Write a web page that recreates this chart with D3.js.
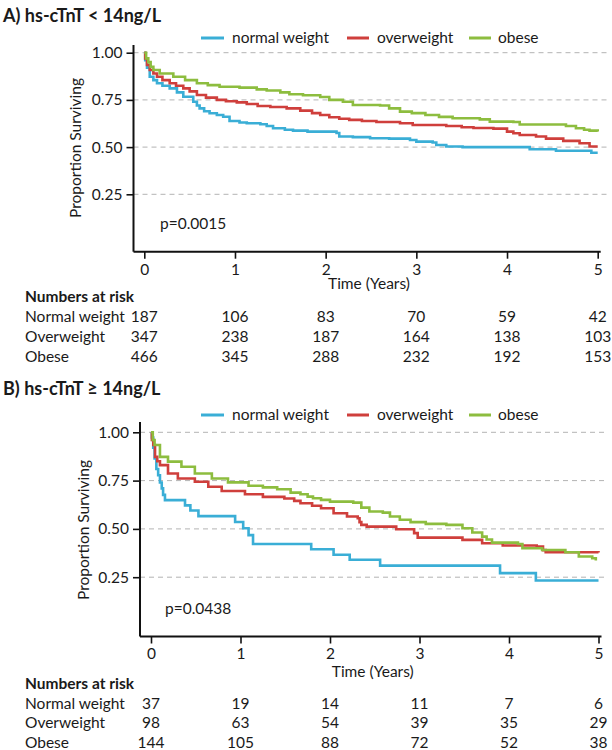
<!DOCTYPE html>
<html>
<head>
<meta charset="utf-8">
<script src="https://cdn.jsdelivr.net/npm/d3@7"></script>
<style>
  html, body { margin: 0; padding: 0; background: #fff; }
  svg text { font-family: Lato, "Open Sans", sans-serif; fill: #1a1a1a; }
</style>
</head>
<body>
<svg id="chart" width="612" height="750"></svg>
<script>
// ---------- DATA ----------
const groups = ["normal weight", "overweight", "obese"];
const riskLabels = ["Normal weight", "Overweight", "Obese"];
const xTicks = [0, 1, 2, 3, 4, 5];
const yTicks = [0.25, 0.50, 0.75, 1.00];
const groupColors = ["#3aaed6", "#cf3f3c", "#8dbd3f"];

const titleA = "A) hs-cTnT < 14ng/L";
const titleB = "B) hs-cTnT \u2265 14ng/L";
const pA = "p=0.0015";
const pB = "p=0.0438";

// Panel A survival steps [years, proportion]
const a_normal = [[0,1],[0.01,0.96],[0.03,0.92],[0.06,0.873],[0.1,0.855],[0.14,0.838],[0.2,0.825],[0.28,0.811],[0.36,0.79],[0.43,0.767],[0.54,0.74],[0.58,0.72],[0.61,0.705],[0.66,0.69],[0.72,0.679],[0.8,0.67],[0.87,0.661],[0.94,0.638],[1.05,0.63],[1.13,0.626],[1.28,0.621],[1.35,0.612],[1.42,0.6],[1.55,0.592],[1.64,0.587],[1.8,0.582],[2.12,0.575],[2.15,0.556],[2.3,0.553],[2.49,0.547],[2.7,0.545],[2.93,0.538],[3.0,0.529],[3.18,0.524],[3.22,0.511],[3.33,0.503],[3.51,0.5],[4.25,0.489],[4.54,0.481],[4.93,0.47],[5.0,0.47]];
const a_over = [[0,1],[0.01,0.97],[0.03,0.935],[0.06,0.908],[0.1,0.89],[0.14,0.873],[0.2,0.855],[0.28,0.838],[0.35,0.825],[0.43,0.811],[0.5,0.795],[0.58,0.776],[0.68,0.762],[0.8,0.75],[0.9,0.743],[1.02,0.737],[1.13,0.728],[1.25,0.718],[1.39,0.712],[1.57,0.705],[1.72,0.693],[1.85,0.68],[1.94,0.67],[2.04,0.658],[2.15,0.65],[2.26,0.644],[2.4,0.638],[2.56,0.633],[2.82,0.626],[2.96,0.617],[3.33,0.612],[3.5,0.605],[3.63,0.601],[3.85,0.598],[4.0,0.582],[4.07,0.573],[4.14,0.564],[4.32,0.556],[4.43,0.545],[4.62,0.533],[4.8,0.52],[4.91,0.503],[5.0,0.503]];
const a_obese = [[0,1],[0.02,0.97],[0.044,0.95],[0.07,0.925],[0.1,0.908],[0.17,0.89],[0.32,0.873],[0.45,0.855],[0.58,0.838],[0.7,0.828],[0.83,0.82],[1.05,0.815],[1.24,0.806],[1.35,0.8],[1.5,0.79],[1.6,0.78],[1.75,0.775],[1.94,0.765],[2.04,0.75],[2.19,0.74],[2.3,0.723],[2.6,0.72],[2.7,0.705],[2.82,0.688],[2.95,0.68],[3.1,0.67],[3.25,0.66],[3.4,0.653],[3.7,0.647],[3.81,0.635],[4.07,0.633],[4.14,0.62],[4.5,0.62],[4.65,0.612],[4.76,0.6],[4.85,0.592],[4.91,0.587],[5.0,0.582]];

// Panel B survival steps [years, proportion]
const b_normal = [[0,1],[0.01,0.973],[0.025,0.92],[0.04,0.865],[0.06,0.81],[0.08,0.778],[0.1,0.74],[0.12,0.71],[0.135,0.676],[0.156,0.649],[0.38,0.622],[0.44,0.595],[0.53,0.566],[0.94,0.536],[1.03,0.503],[1.09,0.468],[1.14,0.422],[1.79,0.395],[2.04,0.366],[2.22,0.34],[2.56,0.31],[3.9,0.271],[4.3,0.233],[5.0,0.233]];
const b_over = [[0,1],[0.01,0.96],[0.026,0.934],[0.045,0.873],[0.07,0.85],[0.1,0.83],[0.19,0.787],[0.3,0.761],[0.49,0.744],[0.64,0.718],[0.79,0.696],[1.05,0.679],[1.25,0.666],[1.49,0.657],[1.6,0.645],[1.67,0.633],[1.8,0.62],[1.9,0.607],[2.04,0.581],[2.19,0.564],[2.31,0.555],[2.33,0.535],[2.35,0.521],[2.41,0.512],[2.74,0.498],[2.94,0.478],[2.98,0.455],[3.48,0.443],[3.7,0.426],[3.93,0.414],[4.31,0.409],[4.38,0.39],[4.41,0.379],[5.0,0.378]];
const b_obese = [[0,1],[0.02,0.96],[0.04,0.934],[0.1,0.873],[0.19,0.848],[0.34,0.822],[0.49,0.787],[0.68,0.761],[0.86,0.741],[1.09,0.723],[1.25,0.715],[1.41,0.705],[1.56,0.688],[1.67,0.679],[1.75,0.667],[1.81,0.659],[1.9,0.65],[2.0,0.641],[2.26,0.636],[2.35,0.61],[2.44,0.59],[2.59,0.584],[2.67,0.564],[2.78,0.547],[2.9,0.535],[3.07,0.526],[3.3,0.521],[3.48,0.503],[3.59,0.481],[3.7,0.46],[3.75,0.445],[3.81,0.429],[4.1,0.422],[4.15,0.4],[4.37,0.391],[4.63,0.379],[4.78,0.357],[4.93,0.348],[4.97,0.336]];

// Numbers at risk
const a_risk_normal = [187, 106, 83, 70, 59, 42];
const a_risk_over = [347, 238, 187, 164, 138, 103];
const a_risk_obese = [466, 345, 288, 232, 192, 153];
const b_risk_normal = [37, 19, 14, 11, 7, 6];
const b_risk_over = [98, 63, 54, 39, 35, 29];
const b_risk_obese = [144, 105, 88, 72, 52, 38];

// ---------- DRAW ----------
const svg = d3.select("#chart");
const fmt = d3.format(".2f");
const FS = "15.5px";

function panel(cfg) {
  const g = svg.append("g");
  const x = d3.scaleLinear().domain([0, 5]).range([cfg.x0, cfg.x5]);
  const y = d3.scaleLinear().domain([0, 1]).range([cfg.y0, cfg.y1]);

  // title
  g.append("text").attr("x", 3).attr("y", cfg.titleY)
    .attr("dominant-baseline", "central")
    .style("font-size", "18px").style("font-weight", "bold").text(cfg.title);

  // legend
  const legX = [[201, 224, 232], [347, 369, 377], [469, 491, 498]];
  groups.forEach((name, i) => {
    g.append("line").attr("x1", legX[i][0]).attr("x2", legX[i][1])
      .attr("y1", cfg.legY + 1).attr("y2", cfg.legY + 1)
      .attr("stroke", groupColors[i]).attr("stroke-width", 3);
    g.append("text").attr("x", legX[i][2]).attr("y", cfg.legY)
      .attr("dominant-baseline", "central")
      .style("font-size", FS).text(name);
  });

  // gridlines
  g.append("g").selectAll("line").data(yTicks).join("line")
    .attr("x1", cfg.axisX).attr("x2", 608)
    .attr("y1", d => y(d)).attr("y2", d => y(d))
    .attr("stroke", "#b3b3b3").attr("stroke-width", 1)
    .attr("stroke-dasharray", "5,4");

  // y axis
  const yAxis = d3.axisLeft(y).tickValues(yTicks).tickFormat(fmt)
    .tickSize(7).tickSizeOuter(0).tickPadding(4);
  const ya = g.append("g").attr("transform", `translate(${cfg.axisX},0)`).call(yAxis);
  ya.select(".domain").remove();
  ya.selectAll(".tick line").attr("stroke", "#111").attr("stroke-width", 1.6);
  ya.selectAll(".tick text").style("font-size", FS).style("fill", "#1a1a1a")
    .attr("font-family", null);
  g.append("line").attr("x1", cfg.axisX).attr("x2", cfg.axisX)
    .attr("y1", cfg.axisTop).attr("y2", cfg.axisY)
    .attr("stroke", "#111").attr("stroke-width", 2);

  // x axis
  const xAxis = d3.axisBottom(x).tickValues(xTicks).tickFormat(d3.format("d"))
    .tickSize(7).tickSizeOuter(0).tickPadding(cfg.tickPad);
  const xa = g.append("g").attr("transform", `translate(0,${cfg.axisY})`).call(xAxis);
  xa.select(".domain").remove();
  xa.selectAll(".tick line").attr("stroke", "#111").attr("stroke-width", 1.6);
  xa.selectAll(".tick text").style("font-size", FS).style("fill", "#1a1a1a")
    .attr("font-family", null);
  g.append("line").attr("x1", cfg.axisX).attr("x2", cfg.x5 + 3)
    .attr("y1", cfg.axisY).attr("y2", cfg.axisY)
    .attr("stroke", "#111").attr("stroke-width", 2);

  // axis titles
  g.append("text")
    .attr("transform", `translate(${cfg.ylabX},${cfg.ylabY}) rotate(-90)`)
    .attr("text-anchor", "middle").attr("dominant-baseline", "central")
    .style("font-size", FS).text("Proportion Surviving");
  g.append("text").attr("x", (cfg.x0 + cfg.x5) / 2 - 2).attr("y", cfg.timeY)
    .attr("text-anchor", "middle").attr("dominant-baseline", "central")
    .style("font-size", FS).text("Time (Years)");

  // p-value
  g.append("text").attr("x", cfg.pX).attr("y", cfg.pY)
    .attr("dominant-baseline", "central").style("font-size", FS).text(cfg.p);

  // curves
  const line = d3.line().x(d => x(d[0])).y(d => y(d[1])).curve(d3.curveStepAfter);
  cfg.series.forEach((s, i) => {
    g.append("path").datum(s).attr("d", line)
      .attr("fill", "none").attr("stroke", groupColors[i])
      .attr("stroke-width", 2.6).attr("stroke-linejoin", "miter");
  });

  // numbers at risk
  g.append("text").attr("x", 25).attr("y", cfg.riskHeadY)
    .attr("dominant-baseline", "central")
    .style("font-size", FS).style("font-weight", "bold").text("Numbers at risk");
  cfg.risk.forEach((row, i) => {
    const ry = cfg.riskRowY[i];
    g.append("text").attr("x", 25).attr("y", ry)
      .attr("dominant-baseline", "central").style("font-size", FS).text(riskLabels[i]);
    g.append("g").selectAll("text").data(row).join("text")
      .attr("x", (d, j) => x(xTicks[j])).attr("y", ry)
      .attr("text-anchor", "middle").attr("dominant-baseline", "central")
      .style("font-size", FS).text(d => d);
  });
}

panel({
  title: titleA, titleY: 15, legY: 37,
  x0: 144.3, x5: 597.7, y0: 241.5, y1: 52.7,
  axisX: 133.5, axisY: 251.7, axisTop: 45,
  tickPad: 5, ylabX: 75, ylabY: 148, timeY: 283,
  pX: 160, pY: 223, p: pA,
  series: [a_normal, a_over, a_obese],
  riskHeadY: 296, riskRowY: [316, 336, 355.5],
  risk: [a_risk_normal, a_risk_over, a_risk_obese]
});

panel({
  title: titleB, titleY: 388, legY: 414,
  x0: 151, x5: 598.5, y0: 625.5, y1: 432.3,
  axisX: 140, axisY: 636.5, axisTop: 422,
  tickPad: 4, ylabX: 83, ylabY: 530, timeY: 671,
  pX: 165, pY: 608, p: pB,
  series: [b_normal, b_over, b_obese],
  riskHeadY: 683, riskRowY: [702.5, 722, 741.5],
  risk: [b_risk_normal, b_risk_over, b_risk_obese]
});
</script>
</body>
</html>
